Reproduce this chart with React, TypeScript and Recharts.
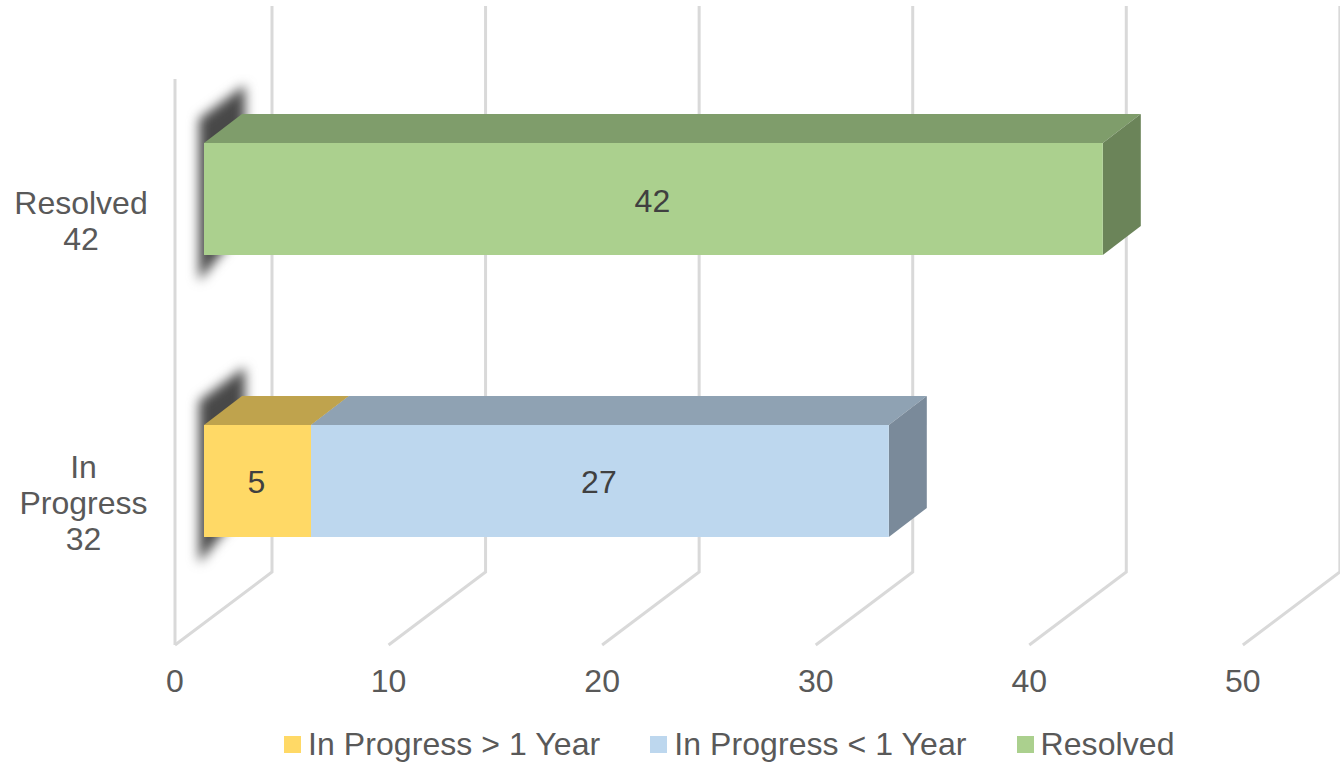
import { BarChart, Bar, XAxis, YAxis, CartesianGrid, Legend, LabelList } from 'recharts'

const categories = ['Resolved\n42', 'In\nProgress\n32']
const overOneYear = [null, 5]
const underOneYear = [null, 27]
const resolved = [42, null]
const xTicks = [0, 10, 20, 30, 40, 50]

const data = categories.map((category, i) => ({
  category,
  over: overOneYear[i],
  under: underOneYear[i],
  resolved: resolved[i],
}))

const FONT = '"Liberation Sans", Arial, sans-serif'
const TEXT = '#595959'
const LABEL = '#404040'
const WALL = '#d9d9d9'

// depth of the fake 3D box and of the floor
const BAR_DX = 38
const BAR_DY = 29
const FLOOR_DX = 97
const FLOOR_Y = 645
const BACK_Y = 572
const TOP_Y = 6
const WALL_TOP = 79
const PLOT_LEFT = 204
const FRONT_LEFT = 175

// bars sit 29px in front of the wall, ticks and gridlines get shifted back
const frontX = (x: number) => FRONT_LEFT + (x - PLOT_LEFT) * 0.998

function Box3D(props: any) {
  const { x, y, width, height, value, face, top, side } = props
  if (!width) return null
  const startsAtZero = Array.isArray(value) && value[0] === 0
  const r = x + width
  const b = y + height
  return (
    <g>
      {startsAtZero && (
        <polygon
          points={`${x - 5},${y - 24} ${x + 41},${y - 58} ${x + 41},${b - 30} ${x - 5},${b + 26}`}
          fill="#484848"
          style={{ filter: 'blur(6px)' }}
        />
      )}
      <polygon points={`${x},${y} ${x + BAR_DX},${y - BAR_DY} ${r + BAR_DX},${y - BAR_DY} ${r},${y}`} fill={top} />
      <polygon points={`${r},${y} ${r + BAR_DX},${y - BAR_DY} ${r + BAR_DX},${b - BAR_DY} ${r},${b}`} fill={side} />
      <rect x={x} y={y} width={width} height={height} fill={face} />
    </g>
  )
}

function GridLine(props: any) {
  const fx = frontX(props.x1)
  const bx = fx + FLOOR_DX
  return (
    <g stroke={WALL} strokeWidth={3} fill="none">
      <polyline points={`${fx},${FLOOR_Y} ${bx},${BACK_Y} ${bx},${TOP_Y}`} />
      {props.index === 0 && <line x1={fx} y1={WALL_TOP} x2={fx} y2={FLOOR_Y} />}
    </g>
  )
}

function CategoryTick({ y, payload }: any) {
  const lines: string[] = payload.value.split('\n')
  const cx = lines.includes('Resolved') ? 81 : 83.5
  const firstY = y + 22 - ((lines.length - 1) * 36) / 2 + 11
  return (
    <text textAnchor="middle" fontFamily={FONT} fontSize={32} fill={TEXT}>
      {lines.map((line, i) => (
        <tspan key={line} x={cx} y={firstY + i * 36}>{line}</tspan>
      ))}
    </text>
  )
}

function ValueTick({ x, payload }: any) {
  return (
    <text x={frontX(x)} y={692} textAnchor="middle" fontFamily={FONT} fontSize={32} fill={TEXT}>
      {payload.value}
    </text>
  )
}

function LegendRow({ payload }: any) {
  return (
    <div style={{ display: 'flex', padding: '4px 0 0 284px', fontFamily: FONT, fontSize: 32, letterSpacing: 0.07, color: TEXT, lineHeight: '36px' }}>
      {(payload || []).map((item: any) => (
        <div key={item.value} style={{ display: 'flex', alignItems: 'center', marginRight: 50 }}>
          <span style={{ width: 17, height: 17, background: item.color, marginRight: 7 }} />
          <span>{item.value}</span>
        </div>
      ))}
    </div>
  )
}

const labelStyle = { fontFamily: FONT, fontSize: 32, fill: LABEL }

export default function App() {
  return (
    <div style={{ position: 'absolute', left: 0, top: 0 }}>
      <BarChart
        width={1340}
        height={765}
        data={data}
        layout="vertical"
        barSize={112}
        margin={{ top: 58, right: 66, bottom: 0, left: 0 }}
      >
        <CartesianGrid horizontal={false} vertical={(p: any) => <GridLine key={p.index} {...p} />} />
        <XAxis
          type="number"
          domain={[0, 50]}
          ticks={xTicks}
          height={100}
          axisLine={false}
          tickLine={false}
          tick={<ValueTick />}
          interval={0}
        />
        <YAxis
          type="category"
          dataKey="category"
          width={204}
          axisLine={false}
          tickLine={false}
          tick={<CategoryTick />}
          interval={0}
        />
        <Legend height={43} content={<LegendRow />} itemSorter={null} />
        <Bar
          dataKey="over"
          name="In Progress > 1 Year"
          stackId="a"
          fill="#ffd966"
          isAnimationActive={false}
          shape={<Box3D face="#ffd966" top="#bfa34d" side="#bfa34d" />}
        >
          <LabelList dataKey="over" position="center" dy={1} dx={-1} style={labelStyle} />
        </Bar>
        <Bar
          dataKey="under"
          name="In Progress < 1 Year"
          stackId="a"
          fill="#bdd7ee"
          isAnimationActive={false}
          shape={<Box3D face="#bdd7ee" top="#8fa2b3" side="#7a8a9a" />}
        >
          <LabelList dataKey="under" position="center" dy={1} dx={-1} style={labelStyle} />
        </Bar>
        <Bar
          dataKey="resolved"
          name="Resolved"
          stackId="a"
          fill="#abd08e"
          isAnimationActive={false}
          shape={<Box3D face="#abd08e" top="#7f9d6b" side="#6b8459" />}
        >
          <LabelList dataKey="resolved" position="center" dy={2} dx={-1} style={labelStyle} />
        </Bar>
      </BarChart>
    </div>
  )
}
